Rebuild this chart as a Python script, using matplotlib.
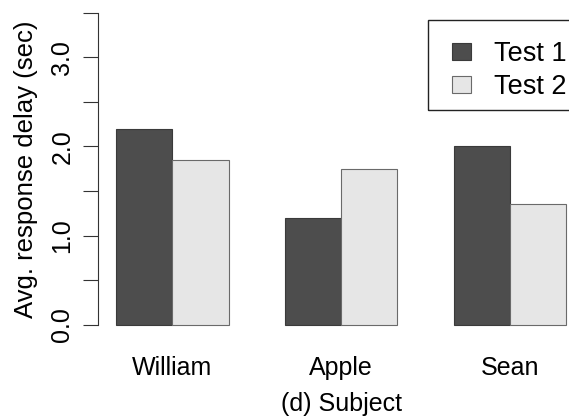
import numpy as np
import matplotlib
matplotlib.use("Agg")
import matplotlib.pyplot as plt
from matplotlib.patches import Rectangle

plt.rcParams['font.family'] = ['Liberation Sans', 'DejaVu Sans']

subjects = ["William", "Apple", "Sean"]
test1 = [2.2, 1.2, 2.0]
test2 = [1.85, 1.75, 1.35]
yticks = [0.0, 0.5, 1.0, 1.5, 2.0, 2.5, 3.0, 3.5]
ylabels = ["0.0", "", "1.0", "", "2.0", "", "3.0", ""]

fig = plt.figure(figsize=(5.69, 4.16), dpi=100)
# plot region runs past the right edge, like the cropped original
ax = fig.add_axes([98/569, 1 - 337.5/416, 486/569, 337.5/416])

x = np.arange(len(subjects)) * 3 + 2   # group centres, R barplot style
ax.bar(x - 0.5, test1, width=1, color="#4d4d4d", edgecolor="#3a3a3a", linewidth=0.8, label="Test 1")
ax.bar(x + 0.5, test2, width=1, color="#e6e6e6", edgecolor="#6a6a6a", linewidth=0.8, label="Test 2")

ax.set_xlim(0.68, 9.32)
ax.set_ylim(-0.14, 3.64)
for s in ["top", "right", "bottom"]:
    ax.spines[s].set_visible(False)
ax.spines["left"].set_bounds(0, 3.5)
ax.spines["left"].set_color("#333333")

ax.set_yticks(yticks)
ax.set_yticklabels(ylabels, rotation=90, va="center", fontsize=18)
ax.tick_params(axis="y", length=11, color="#333333", pad=6)
ax.set_xticks(x)
ax.set_xticklabels(subjects, fontsize=18)
ax.tick_params(axis="x", length=0, pad=13.5)
ax.set_ylabel("Avg. response delay (sec)", fontsize=18.5, labelpad=9)
ax.set_xlabel("(d) Subject", fontsize=18, labelpad=8.5)

# legend box drawn by hand, it runs past the right edge
fig.patches.append(Rectangle((428/569, 1 - 110/416), 200/569, 90/416,
                             transform=fig.transFigure, fill=False,
                             edgecolor="#222222", linewidth=1.0))
leg = fig.legend(loc="upper left", bbox_to_anchor=(452/569, 1 - 41/416),
                 fontsize=19.5, frameon=False,
                 handlelength=0.7, handleheight=0.63, handletextpad=0.85,
                 borderpad=0, labelspacing=0.26, borderaxespad=0)

fig.savefig("out.png", dpi=100)
